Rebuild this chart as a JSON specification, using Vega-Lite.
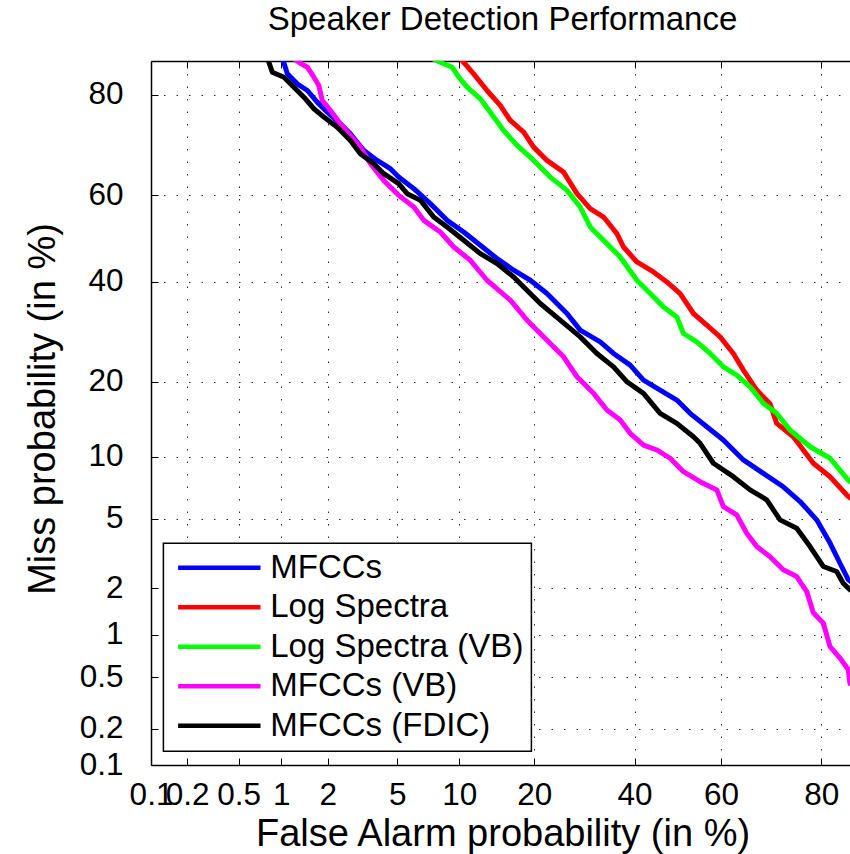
{
  "$schema": "https://vega.github.io/schema/vega-lite/v6.json",
  "width": 699,
  "height": 704,
  "autosize": {"type": "none"},
  "padding": {"left": 151, "top": 61, "right": 0, "bottom": 89},
  "background": "white",
  "title": {"text": "Speaker Detection Performance", "fontSize": 33, "font": "Liberation Sans", "fontWeight": "normal", "color": "black", "anchor": "middle", "baseline": "alphabetic", "offset": 27, "dy": 29, "dx": 2},
  "config": {
    "view": {"stroke": null},
    "font": "Liberation Sans",
    "axis": {
      "domainColor": "black", "domainWidth": 1.5, "tickColor": "black", "tickWidth": 1, "tickSize": -7,
      "labelFont": "Liberation Sans", "labelFontSize": 31.5, "labelColor": "black",
      "labelFlush": false, "labelOverlap": false, "labelBound": false,
      "titleFont": "Liberation Sans", "titleFontSize": 38, "titleFontWeight": "normal", "titleColor": "black",
      "gridColor": "black", "gridDash": [1.5, 11], "gridWidth": 1, "gridOpacity": 0.85
    },
    "legend": {"strokeWidth": 1.5}
  },
  "data": {"values": [
    {"s": "MFCCs", "fa": 1.0, "miss": 86.5},
    {"s": "MFCCs", "fa": 1.04, "miss": 84.93},
    {"s": "MFCCs", "fa": 1.10, "miss": 83.29},
    {"s": "MFCCs", "fa": 1.28, "miss": 81.78},
    {"s": "MFCCs", "fa": 1.49, "miss": 80.73},
    {"s": "MFCCs", "fa": 1.72, "miss": 78.80},
    {"s": "MFCCs", "fa": 1.99, "miss": 77.06},
    {"s": "MFCCs", "fa": 2.39, "miss": 74.94},
    {"s": "MFCCs", "fa": 2.74, "miss": 73.04},
    {"s": "MFCCs", "fa": 3.28, "miss": 69.71},
    {"s": "MFCCs", "fa": 3.89, "miss": 67.64},
    {"s": "MFCCs", "fa": 4.59, "miss": 65.88},
    {"s": "MFCCs", "fa": 5.08, "miss": 64.05},
    {"s": "MFCCs", "fa": 6.08, "miss": 61.48},
    {"s": "MFCCs", "fa": 7.33, "miss": 58.08},
    {"s": "MFCCs", "fa": 8.80, "miss": 54.22},
    {"s": "MFCCs", "fa": 10.46, "miss": 51.5},
    {"s": "MFCCs", "fa": 12.34, "miss": 48.38},
    {"s": "MFCCs", "fa": 14.45, "miss": 45.29},
    {"s": "MFCCs", "fa": 16.79, "miss": 42.59},
    {"s": "MFCCs", "fa": 19.35, "miss": 40.30},
    {"s": "MFCCs", "fa": 22.15, "miss": 37.31},
    {"s": "MFCCs", "fa": 25.79, "miss": 32.97},
    {"s": "MFCCs", "fa": 28.36, "miss": 29.51},
    {"s": "MFCCs", "fa": 32.46, "miss": 27.19},
    {"s": "MFCCs", "fa": 35.32, "miss": 24.98},
    {"s": "MFCCs", "fa": 39.01, "miss": 22.85},
    {"s": "MFCCs", "fa": 42.04, "miss": 20.29},
    {"s": "MFCCs", "fa": 45.89, "miss": 18.67},
    {"s": "MFCCs", "fa": 49.79, "miss": 17.14},
    {"s": "MFCCs", "fa": 52.90, "miss": 15.23},
    {"s": "MFCCs", "fa": 56.77, "miss": 13.45},
    {"s": "MFCCs", "fa": 60.55, "miss": 11.84},
    {"s": "MFCCs", "fa": 64.99, "miss": 9.68},
    {"s": "MFCCs", "fa": 69.22, "miss": 8.40},
    {"s": "MFCCs", "fa": 73.21, "miss": 7.25},
    {"s": "MFCCs", "fa": 76.35, "miss": 6.13},
    {"s": "MFCCs", "fa": 79.25, "miss": 4.93},
    {"s": "MFCCs", "fa": 81.42, "miss": 3.69},
    {"s": "MFCCs", "fa": 82.94, "miss": 2.83},
    {"s": "MFCCs", "fa": 84.14, "miss": 2.26},
    {"s": "MFCCs", "fa": 85.2, "miss": 2.10},

    {"s": "Log Spectra", "fa": 9.61, "miss": 86.2},
    {"s": "Log Spectra", "fa": 10.46, "miss": 84.93},
    {"s": "Log Spectra", "fa": 11.56, "miss": 83.29},
    {"s": "Log Spectra", "fa": 13.16, "miss": 80.73},
    {"s": "Log Spectra", "fa": 14.89, "miss": 78.24},
    {"s": "Log Spectra", "fa": 16.30, "miss": 75.55},
    {"s": "Log Spectra", "fa": 18.30, "miss": 73.35},
    {"s": "Log Spectra", "fa": 19.90, "miss": 70.39},
    {"s": "Log Spectra", "fa": 22.15, "miss": 67.64},
    {"s": "Log Spectra", "fa": 25.15, "miss": 65.14},
    {"s": "Log Spectra", "fa": 27.72, "miss": 60.35},
    {"s": "Log Spectra", "fa": 30.38, "miss": 56.93},
    {"s": "Log Spectra", "fa": 33.17, "miss": 54.99},
    {"s": "Log Spectra", "fa": 36.06, "miss": 51.12},
    {"s": "Log Spectra", "fa": 37.52, "miss": 47.99},
    {"s": "Log Spectra", "fa": 40.53, "miss": 44.50},
    {"s": "Log Spectra", "fa": 44.34, "miss": 42.2},
    {"s": "Log Spectra", "fa": 47.45, "miss": 39.92},
    {"s": "Log Spectra", "fa": 50.56, "miss": 37.31},
    {"s": "Log Spectra", "fa": 53.67, "miss": 32.97},
    {"s": "Log Spectra", "fa": 56.77, "miss": 30.53},
    {"s": "Log Spectra", "fa": 59.81, "miss": 28.17},
    {"s": "Log Spectra", "fa": 62.79, "miss": 24.98},
    {"s": "Log Spectra", "fa": 64.99, "miss": 21.98},
    {"s": "Log Spectra", "fa": 67.85, "miss": 18.67},
    {"s": "Log Spectra", "fa": 70.59, "miss": 16.6},
    {"s": "Log Spectra", "fa": 71.92, "miss": 13.89},
    {"s": "Log Spectra", "fa": 75.11, "miss": 12.22},
    {"s": "Log Spectra", "fa": 78.68, "miss": 9.35},
    {"s": "Log Spectra", "fa": 81.42, "miss": 8.10},
    {"s": "Log Spectra", "fa": 84.14, "miss": 6.49},
    {"s": "Log Spectra", "fa": 85.2, "miss": 6.11},

    {"s": "Log Spectra (VB)", "fa": 7.18, "miss": 85.7},
    {"s": "Log Spectra (VB)", "fa": 8.18, "miss": 84.93},
    {"s": "Log Spectra (VB)", "fa": 9.28, "miss": 84.24},
    {"s": "Log Spectra (VB)", "fa": 9.94, "miss": 82.79},
    {"s": "Log Spectra (VB)", "fa": 10.83, "miss": 81.26},
    {"s": "Log Spectra (VB)", "fa": 12.34, "miss": 79.37},
    {"s": "Log Spectra (VB)", "fa": 13.57, "miss": 77.06},
    {"s": "Log Spectra (VB)", "fa": 15.36, "miss": 73.67},
    {"s": "Log Spectra (VB)", "fa": 17.29, "miss": 70.73},
    {"s": "Log Spectra (VB)", "fa": 19.90, "miss": 67.64},
    {"s": "Log Spectra (VB)", "fa": 22.72, "miss": 64.05},
    {"s": "Log Spectra (VB)", "fa": 25.79, "miss": 61.09},
    {"s": "Log Spectra (VB)", "fa": 28.36, "miss": 57.30},
    {"s": "Log Spectra (VB)", "fa": 30.38, "miss": 52.67},
    {"s": "Log Spectra (VB)", "fa": 33.89, "miss": 48.78},
    {"s": "Log Spectra (VB)", "fa": 36.78, "miss": 45.66},
    {"s": "Log Spectra (VB)", "fa": 40.53, "miss": 40.30},
    {"s": "Log Spectra (VB)", "fa": 43.57, "miss": 37.31},
    {"s": "Log Spectra (VB)", "fa": 46.66, "miss": 34.39},
    {"s": "Log Spectra (VB)", "fa": 49.79, "miss": 32.25},
    {"s": "Log Spectra (VB)", "fa": 51.33, "miss": 28.84},
    {"s": "Log Spectra (VB)", "fa": 54.45, "miss": 27.19},
    {"s": "Log Spectra (VB)", "fa": 57.53, "miss": 24.98},
    {"s": "Log Spectra (VB)", "fa": 60.55, "miss": 22.55},
    {"s": "Log Spectra (VB)", "fa": 63.54, "miss": 21.12},
    {"s": "Log Spectra (VB)", "fa": 66.44, "miss": 19.19},
    {"s": "Log Spectra (VB)", "fa": 69.22, "miss": 16.66},
    {"s": "Log Spectra (VB)", "fa": 71.92, "miss": 15.23},
    {"s": "Log Spectra (VB)", "fa": 74.5, "miss": 13.04},
    {"s": "Log Spectra (VB)", "fa": 78.12, "miss": 11.07},
    {"s": "Log Spectra (VB)", "fa": 81.42, "miss": 9.85},
    {"s": "Log Spectra (VB)", "fa": 84.14, "miss": 7.81},
    {"s": "Log Spectra (VB)", "fa": 85.2, "miss": 7.31},

    {"s": "MFCCs (VB)", "fa": 1.155, "miss": 85.7},
    {"s": "MFCCs (VB)", "fa": 1.312, "miss": 84.93},
    {"s": "MFCCs (VB)", "fa": 1.49, "miss": 84.24},
    {"s": "MFCCs (VB)", "fa": 1.64, "miss": 82.79},
    {"s": "MFCCs (VB)", "fa": 1.762, "miss": 81.53},
    {"s": "MFCCs (VB)", "fa": 1.851, "miss": 79.08},
    {"s": "MFCCs (VB)", "fa": 2.08, "miss": 77.36},
    {"s": "MFCCs (VB)", "fa": 2.391, "miss": 74.94},
    {"s": "MFCCs (VB)", "fa": 2.741, "miss": 72.71},
    {"s": "MFCCs (VB)", "fa": 3.13, "miss": 70.39},
    {"s": "MFCCs (VB)", "fa": 3.57, "miss": 66.95},
    {"s": "MFCCs (VB)", "fa": 4.23, "miss": 63.32},
    {"s": "MFCCs (VB)", "fa": 5.08, "miss": 59.97},
    {"s": "MFCCs (VB)", "fa": 6.08, "miss": 57.30},
    {"s": "MFCCs (VB)", "fa": 6.81, "miss": 54.22},
    {"s": "MFCCs (VB)", "fa": 8.18, "miss": 51.5},
    {"s": "MFCCs (VB)", "fa": 9.44, "miss": 47.99},
    {"s": "MFCCs (VB)", "fa": 11.18, "miss": 44.89},
    {"s": "MFCCs (VB)", "fa": 13.16, "miss": 40.3},
    {"s": "MFCCs (VB)", "fa": 16.30, "miss": 35.84},
    {"s": "MFCCs (VB)", "fa": 18.83, "miss": 31.57},
    {"s": "MFCCs (VB)", "fa": 22.15, "miss": 27.52},
    {"s": "MFCCs (VB)", "fa": 25.15, "miss": 24.35},
    {"s": "MFCCs (VB)", "fa": 27.72, "miss": 20.84},
    {"s": "MFCCs (VB)", "fa": 31.07, "miss": 18.16},
    {"s": "MFCCs (VB)", "fa": 33.89, "miss": 15.69},
    {"s": "MFCCs (VB)", "fa": 36.78, "miss": 14.32},
    {"s": "MFCCs (VB)", "fa": 39.01, "miss": 12.64},
    {"s": "MFCCs (VB)", "fa": 42.04, "miss": 11.26},
    {"s": "MFCCs (VB)", "fa": 45.12, "miss": 10.72},
    {"s": "MFCCs (VB)", "fa": 48.22, "miss": 9.85},
    {"s": "MFCCs (VB)", "fa": 51.33, "miss": 8.55},
    {"s": "MFCCs (VB)", "fa": 55.22, "miss": 7.67},
    {"s": "MFCCs (VB)", "fa": 59.06, "miss": 7.0},
    {"s": "MFCCs (VB)", "fa": 60.55, "miss": 5.77},
    {"s": "MFCCs (VB)", "fa": 63.54, "miss": 5.23},
    {"s": "MFCCs (VB)", "fa": 65.72, "miss": 4.18},
    {"s": "MFCCs (VB)", "fa": 67.85, "miss": 3.53},
    {"s": "MFCCs (VB)", "fa": 70.59, "miss": 3.09},
    {"s": "MFCCs (VB)", "fa": 73.21, "miss": 2.59},
    {"s": "MFCCs (VB)", "fa": 75.74, "miss": 2.36},
    {"s": "MFCCs (VB)", "fa": 77.54, "miss": 1.91},
    {"s": "MFCCs (VB)", "fa": 78.68, "miss": 1.40},
    {"s": "MFCCs (VB)", "fa": 80.34, "miss": 1.20},
    {"s": "MFCCs (VB)", "fa": 81.42, "miss": 0.83},
    {"s": "MFCCs (VB)", "fa": 82.94, "miss": 0.69},
    {"s": "MFCCs (VB)", "fa": 84.14, "miss": 0.57},
    {"s": "MFCCs (VB)", "fa": 84.38, "miss": 0.45},
    {"s": "MFCCs (VB)", "fa": 85.2, "miss": 0.45},

    {"s": "MFCCs (FDIC)", "fa": 0.78, "miss": 86.5},
    {"s": "MFCCs (FDIC)", "fa": 0.823, "miss": 84.93},
    {"s": "MFCCs (FDIC)", "fa": 0.869, "miss": 83.52},
    {"s": "MFCCs (FDIC)", "fa": 1.044, "miss": 82.79},
    {"s": "MFCCs (FDIC)", "fa": 1.217, "miss": 81.26},
    {"s": "MFCCs (FDIC)", "fa": 1.415, "miss": 79.64},
    {"s": "MFCCs (FDIC)", "fa": 1.64, "miss": 77.66},
    {"s": "MFCCs (FDIC)", "fa": 1.895, "miss": 76.17},
    {"s": "MFCCs (FDIC)", "fa": 2.288, "miss": 74.31},
    {"s": "MFCCs (FDIC)", "fa": 2.741, "miss": 71.72},
    {"s": "MFCCs (FDIC)", "fa": 3.13, "miss": 69.04},
    {"s": "MFCCs (FDIC)", "fa": 3.73, "miss": 66.95},
    {"s": "MFCCs (FDIC)", "fa": 4.23, "miss": 64.79},
    {"s": "MFCCs (FDIC)", "fa": 5.08, "miss": 62.59},
    {"s": "MFCCs (FDIC)", "fa": 5.62, "miss": 60.35},
    {"s": "MFCCs (FDIC)", "fa": 6.56, "miss": 58.83},
    {"s": "MFCCs (FDIC)", "fa": 7.61, "miss": 54.99},
    {"s": "MFCCs (FDIC)", "fa": 8.80, "miss": 52.67},
    {"s": "MFCCs (FDIC)", "fa": 10.46, "miss": 49.55},
    {"s": "MFCCs (FDIC)", "fa": 12.34, "miss": 46.45},
    {"s": "MFCCs (FDIC)", "fa": 14.45, "miss": 44.13},
    {"s": "MFCCs (FDIC)", "fa": 16.79, "miss": 41.05},
    {"s": "MFCCs (FDIC)", "fa": 18.30, "miss": 38.79},
    {"s": "MFCCs (FDIC)", "fa": 21.0, "miss": 35.12},
    {"s": "MFCCs (FDIC)", "fa": 24.53, "miss": 31.57},
    {"s": "MFCCs (FDIC)", "fa": 28.36, "miss": 28.17},
    {"s": "MFCCs (FDIC)", "fa": 31.77, "miss": 24.98},
    {"s": "MFCCs (FDIC)", "fa": 35.32, "miss": 22.55},
    {"s": "MFCCs (FDIC)", "fa": 38.27, "miss": 20.01},
    {"s": "MFCCs (FDIC)", "fa": 42.04, "miss": 18.16},
    {"s": "MFCCs (FDIC)", "fa": 45.89, "miss": 15.23},
    {"s": "MFCCs (FDIC)", "fa": 49.79, "miss": 13.89},
    {"s": "MFCCs (FDIC)", "fa": 53.67, "miss": 12.22},
    {"s": "MFCCs (FDIC)", "fa": 55.22, "miss": 11.46},
    {"s": "MFCCs (FDIC)", "fa": 58.28, "miss": 9.35},
    {"s": "MFCCs (FDIC)", "fa": 62.79, "miss": 8.10},
    {"s": "MFCCs (FDIC)", "fa": 66.44, "miss": 7.0},
    {"s": "MFCCs (FDIC)", "fa": 69.92, "miss": 6.25},
    {"s": "MFCCs (FDIC)", "fa": 72.58, "miss": 4.93},
    {"s": "MFCCs (FDIC)", "fa": 75.74, "miss": 4.45},
    {"s": "MFCCs (FDIC)", "fa": 78.12, "miss": 3.53},
    {"s": "MFCCs (FDIC)", "fa": 80.34, "miss": 2.71},
    {"s": "MFCCs (FDIC)", "fa": 82.44, "miss": 2.53},
    {"s": "MFCCs (FDIC)", "fa": 83.42, "miss": 2.15},
    {"s": "MFCCs (FDIC)", "fa": 84.38, "miss": 1.96},
    {"s": "MFCCs (FDIC)", "fa": 85.2, "miss": 1.91}
  ]},
  "transform": [
    {"calculate": "quantileNormal(datum.fa / 100)", "as": "xd"},
    {"calculate": "quantileNormal(datum.miss / 100)", "as": "yd"}
  ],
  "layer": [
    {
      "mark": {"type": "line", "strokeWidth": 5, "clip": true, "strokeJoin": "round"},
      "encoding": {
        "x": {
          "field": "xd", "type": "quantitative",
          "scale": {"domain": [-3.0902, 1.0106], "nice": false, "zero": false},
          "axis": {
            "orient": "bottom",
            "values": [-3.0902, -2.8782, -2.5758, -2.3263, -2.0537, -1.6449, -1.2816, -0.8416, -0.2533, 0.2533, 0.8416],
            "labelExpr": "'' + round(cumulativeNormal(datum.value) * 1000) / 10",
            "labelBaseline": "alphabetic", "labelPadding": 46, "labelAlign": "center",
            "grid": true,
            "title": "False Alarm probability (in %)",
            "titleX": 351.5, "titleY": 80, "titleBaseline": "alphabetic", "titleAlign": "center", "titleAnchor": null
          }
        },
        "y": {
          "field": "yd", "type": "quantitative",
          "scale": {"domain": [-3.0902, 1.041], "nice": false, "zero": false},
          "axis": {
            "orient": "left",
            "values": [-3.0902, -2.8782, -2.5758, -2.3263, -2.0537, -1.6449, -1.2816, -0.8416, -0.2533, 0.2533, 0.8416],
            "labelExpr": "'' + round(cumulativeNormal(datum.value) * 1000) / 10",
            "labelPadding": 35, "labelBaseline": "middle",
            "grid": true,
            "title": "Miss probability (in %)",
            "titleX": -97, "titleY": 347.5, "titleAngle": -90, "titleBaseline": "alphabetic", "titleAlign": "center"
          }
        },
        "color": {
          "field": "s", "type": "nominal",
          "scale": {
            "domain": ["MFCCs", "Log Spectra", "Log Spectra (VB)", "MFCCs (VB)", "MFCCs (FDIC)"],
            "range": ["#0000ff", "#ff0000", "#00ff00", "#ff00ff", "#000000"]
          },
          "legend": {
            "orient": "none", "legendX": 12.4, "legendY": 482.3, "title": null,
            "symbolType": "M-0.98,0H7.26", "symbolSize": 400, "symbolStrokeWidth": 4.5,
            "labelFontSize": 33, "labelFont": "Liberation Sans", "labelColor": "black",
            "labelOffset": 65.85, "rowPadding": 5.5, "padding": 8,
            "strokeColor": "black", "fillColor": "white", "labelLimit": 500
          }
        }
      }
    },
    {
      "mark": {"type": "point", "opacity": 0, "size": 1},
      "encoding": {
        "x": {
          "field": "xd", "type": "quantitative",
          "scale": {"domain": [-3.0902, 1.0106], "nice": false, "zero": false},
          "axis": {
            "orient": "top", "labels": false, "title": null, "grid": false,
            "values": [-3.0902, -2.8782, -2.5758, -2.3263, -2.0537, -1.6449, -1.2816, -0.8416, -0.2533, 0.2533, 0.8416]
          }
        }
      }
    }
  ],
  "resolve": {"axis": {"x": "independent"}}
}
